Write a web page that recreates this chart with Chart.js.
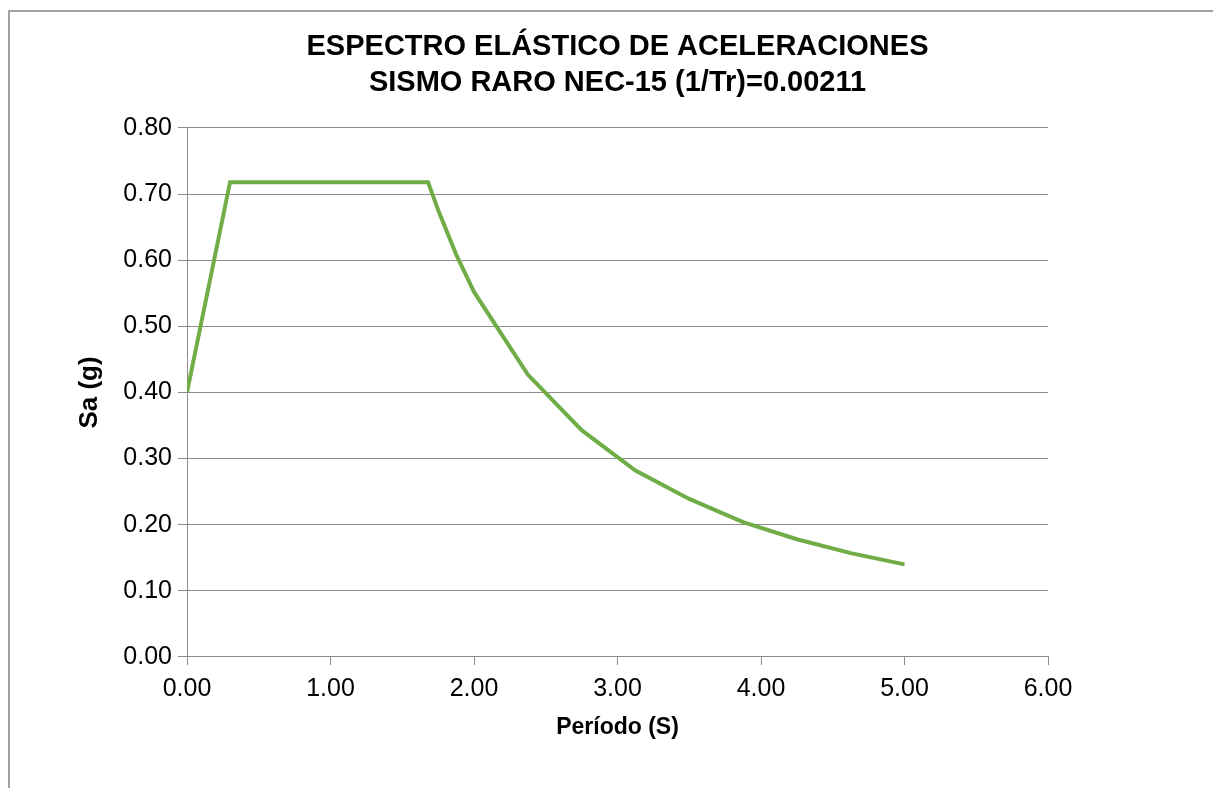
<!DOCTYPE html>
<html>
<head>
<meta charset="utf-8">
<script src="https://cdn.jsdelivr.net/npm/chart.js@4/dist/chart.umd.min.js"></script>
<style>
  html, body { margin: 0; padding: 0; background: #fff; }
  #wrap { position: absolute; left: 0; top: 0; width: 1213px; height: 788px; }
</style>
</head>
<body>
<div id="wrap"><canvas id="chart"></canvas></div>
<script>
// Periodo T (s) y aceleracion espectral Sa (g)
const periods = [0.00, 0.30, 1.68, 1.75, 1.875, 2.00, 2.375, 2.75, 3.125, 3.50, 3.875, 4.25, 4.625, 5.00];
const saValues = [0.400, 0.718, 0.718, 0.676, 0.609, 0.552, 0.427, 0.343, 0.282, 0.239, 0.204, 0.178, 0.157, 0.140];
const xTicks = [0, 1, 2, 3, 4, 5, 6];
const yTicks = [0, 0.1, 0.2, 0.3, 0.4, 0.5, 0.6, 0.7, 0.8];

const points = periods.map((t, i) => ({ x: t, y: saValues[i] }));

// outer frame of the chart object (only left and top edges visible)
const framePlugin = {
    id: 'frame',
    beforeDraw(chart) {
        const ctx = chart.ctx;
        ctx.save();
        ctx.strokeStyle = '#a0a0a0';
        ctx.lineWidth = 2;
        ctx.beginPath();
        ctx.moveTo(9, 788);
        ctx.lineTo(9, 11);
        ctx.lineTo(1213, 11);
        ctx.stroke();
        ctx.restore();
    }
};

const gridColor = '#8c8c8c';
const font = 'Liberation Sans, Arial, sans-serif';

new Chart(document.getElementById('chart'), {
    type: 'scatter',
    data: {
        datasets: [{
            data: points,
            showLine: true,
            borderColor: '#70ad47',
            borderWidth: 4,
            pointRadius: 0,
            tension: 0
        }]
    },
    options: {
        responsive: true,
        maintainAspectRatio: false,
        animation: false,
        layout: { padding: { left: 74, right: 165, top: 0, bottom: 47 } },
        plugins: {
            legend: { display: false },
            tooltip: { enabled: false },
            title: {
                display: true,
                fullSize: false,
                text: ['ESPECTRO ELÁSTICO DE ACELERACIONES', 'SISMO RARO NEC-15 (1/Tr)=0.00211'],
                color: '#000',
                font: { family: font, size: 29, weight: 'bold', lineHeight: 1.24 },
                padding: { top: 29, bottom: 27 }
            }
        },
        scales: {
            x: {
                type: 'linear',
                min: 0,
                max: 6,
                afterBuildTicks: axis => { axis.ticks = xTicks.map(v => ({ value: v })); },
                ticks: {
                    color: '#000',
                    font: { family: font, size: 25 },
                    padding: 9,
                    maxRotation: 0,
                    callback: v => v.toFixed(2)
                },
                grid: { drawOnChartArea: false, drawTicks: true, tickLength: 8, color: gridColor },
                border: { display: true, color: gridColor, width: 1 },
                title: {
                    display: true,
                    text: 'Período (S)',
                    color: '#000',
                    font: { family: font, size: 23, weight: 'bold', lineHeight: 1.2 },
                    padding: { top: 0, bottom: 0 }
                },
                afterFit: axis => { axis.height = 84; }
            },
            y: {
                type: 'linear',
                min: 0,
                max: 0.8,
                afterBuildTicks: axis => { axis.ticks = yTicks.map(v => ({ value: v })); },
                ticks: {
                    color: '#000',
                    font: { family: font, size: 25 },
                    padding: 6,
                    callback: v => v.toFixed(2)
                },
                grid: { drawTicks: true, tickLength: 9, color: gridColor },
                border: { display: true, color: gridColor, width: 1 },
                title: {
                    display: true,
                    text: 'Sa (g)',
                    color: '#000',
                    font: { family: font, size: 26, weight: 'bold', lineHeight: 1.2 },
                    padding: { top: 0, bottom: 0 }
                },
                afterFit: axis => { axis.width = 113; }
            }
        }
    },
    plugins: [framePlugin]
});
</script>
</body>
</html>
